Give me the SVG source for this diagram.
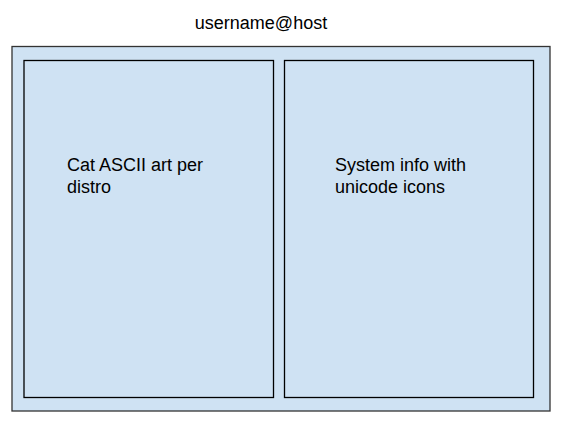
<svg xmlns="http://www.w3.org/2000/svg" width="569" height="428" viewBox="0 0 569 428">
<style>
.box{fill:#cfe2f3;stroke:#000;stroke-width:1.3}
.t{font-family:"Liberation Sans",Arial,sans-serif;font-size:18px;fill:#000}
</style>
<rect width="569" height="428" fill="#fff"/>
<g id="title"><text class="t" x="261" y="29" text-anchor="middle">username@host</text></g>
<g id="outer"><rect class="box" x="12" y="46.5" width="538" height="364.5" style="stroke:#333"/></g>
<g id="left"><rect class="box" x="24" y="60.5" width="249.5" height="337"/>
<text class="t" x="67" y="171">Cat ASCII art per</text>
<text class="t" x="67" y="193">distro</text></g>
<g id="right"><rect class="box" x="284.5" y="60.5" width="249" height="337"/>
<text class="t" x="335" y="171">System info with</text>
<text class="t" x="335" y="193">unicode icons</text></g>
<g id="connectors"></g>
</svg>
